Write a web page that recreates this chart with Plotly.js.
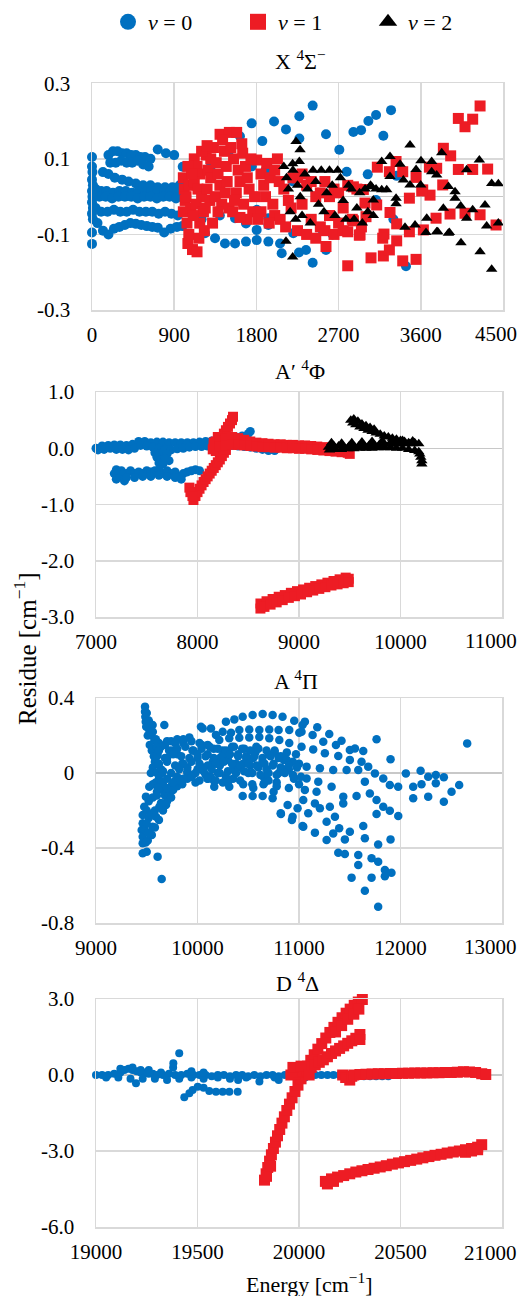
<!DOCTYPE html>
<html>
<head>
<meta charset="utf-8">
<script src="https://cdn.plot.ly/plotly-3.0.1.min.js"></script>
<style>html,body{margin:0;padding:0;background:#fff}#chart{width:520px;height:1296px}</style>
</head>
<body>
<div id="chart"></div>
<script>
// ---------- Panel 1: X 4Σ- ----------
const X_v0_x = [
 0,0,5,0,10,0,5,0,10,0,10,0,0,
 180,230,280,330,380,430,480,530,580,640,720,810,900,
 200,260,320,380,440,500,560,620,
 120,180,250,330,400,480,560,640,720,800,880,960,
 40,100,160,230,300,370,440,510,580,650,720,790,860,930,1000,
 80,150,220,290,360,430,500,570,640,710,780,850,920,
 40,100,170,240,310,380,450,520,590,660,730,800,870,940,
 60,120,180,240,300,360,420,480,540,600,660,720,790,860,930,990,
 993,1237,1347,1456,1566,1686,1803,1931,2059,2077,2204,2266,2343,2416,2562,2635,3438,2527,
 2416,3274,3110,3026,2270,1993,1748,2124,2562,2946,2862,3190,2270,1865,1620,2708,1504,
 1686,1803,1931,1803,1931,1566,1100,1200,1400,1300,1900,2789,3019,3110,3336,2200,1750,3300
];
const X_v0_y = [
 0.105,0.08,0.065,0.045,0.03,0.015,0,-0.015,-0.03,-0.045,-0.06,-0.095,-0.125,
 0.11,0.12,0.12,0.115,0.115,0.11,0.11,0.105,0.105,0.1,0.125,0.115,0.11,
 0.09,0.09,0.095,0.09,0.09,0.095,0.085,0.08,
 0.065,0.06,0.05,0.045,0.04,0.035,0.03,0.03,0.025,0.025,0.025,0.03,
 0.02,0.015,0.015,0.01,0.015,0.015,0.01,0.015,0.01,0.015,0.015,0.01,0.015,0.01,0.01,
 0,0,-0.005,0,0,0,-0.005,0,0,-0.005,0,0,-0.005,
 -0.03,-0.04,-0.04,-0.035,-0.04,-0.04,-0.035,-0.04,-0.04,-0.04,-0.045,-0.04,-0.045,-0.05,
 -0.07,-0.09,-0.1,-0.085,-0.08,-0.075,-0.07,-0.072,-0.075,-0.078,-0.08,-0.082,-0.095,-0.085,-0.08,-0.078,
 0.079,-0.097,-0.11,-0.124,-0.124,-0.119,-0.115,-0.119,-0.124,-0.15,-0.097,-0.148,-0.141,-0.175,-0.141,-0.1,-0.184,-0.09,
 0.241,0.229,0.216,0.2,0.213,0.199,0.194,0.178,0.165,0.176,0.171,0.161,0.154,0.147,0.16,0.124,0.122,
 -0.071,-0.088,-0.075,-0.035,-0.057,-0.057,-0.05,-0.06,-0.05,0.08,0.07,0.066,0.059,-0.009,0.055,0.04,0.08,-0.06
];
const X_v1_x = [
 1000,1010,1020,1000,1040,1060,1050,1100,1150,1030,1060,1080,
 1120,1150,1180,1120,1160,1200,1140,1220,1180,1250,1270,1300,1260,1290,1240,1300,1200,1230,
 1330,1360,1380,1400,1350,1420,1380,1402,1450,1470,1480,1460,1500,
 1504,1584,1550,1600,1620,1580,1650,1680,1700,1720,1660,1760,1700,1540,1620,
 1803,1850,1880,1913,1950,2000,2050,1900,1980,1850,2000,2100,2150,2060,2200,2120,
 2250,2300,2350,2400,2450,2500,2550,2600,2650,2700,2750,2800,2850,2900,2950,2250,2350,2450,2550,2650,2300,2400,2500,2600,2700,2750,
 4249,4011,4084,4168,3847,3927,4011,4168,4332,3694,3774,3124,3256,3402,3548,3621,3701,3475,3840,3329,
 3767,3920,4084,4249,4424,3263,3336,3197,3628,2935,3117,2989,2800,3055,3190,3402,3548,3256,3336,3183,2927,2562,2800,3475,3610,3000,2862,2971,2862,
 1050,1090,1110,1170,1260,1320,1430,1520,1560,1640,1740,1780,1820,1940,2030,2180
];
const X_v1_y = [
 0.05,0.02,-0.01,-0.04,-0.07,-0.1,-0.124,-0.14,-0.146,0.0,0.03,-0.03,
 0.1,0.08,0.06,0.04,0.02,0.0,-0.02,-0.04,-0.07,0.11,0.07,0.05,0.02,-0.01,-0.03,0.1,0.12,-0.09,
 0.13,0.09,0.06,0.03,0.0,-0.02,-0.04,0.165,0.12,0.08,0.04,0.01,-0.03,
 0.17,0.17,0.1,0.07,0.04,0.01,0.115,0.08,0.05,0.02,-0.02,-0.04,-0.06,-0.04,-0.055,
 0.097,0.06,0.03,0.088,0.05,0.07,0.04,0.0,-0.02,-0.04,-0.05,0.02,-0.01,-0.06,0.05,-0.08,
 0.05,-0.02,0.03,-0.06,0.0,-0.08,0.04,-0.05,0.02,-0.07,-0.03,0.03,-0.06,0.02,-0.08,-0.09,-0.1,-0.11,-0.09,-0.1,0.06,0.04,0.01,0.0,0.01,-0.09,
 0.24,0.207,0.185,0.205,0.128,0.108,0.072,0.072,0.073,0.078,0.075,0.078,0.066,0.066,0.051,0.018,0.004,-0.004,0.031,0.093,
 -0.057,-0.046,-0.044,-0.048,-0.075,-0.042,-0.072,-0.099,-0.088,-0.101,-0.022,-0.017,-0.183,-0.162,-0.157,-0.17,-0.166,-0.141,-0.117,-0.11,-0.102,-0.132,-0.093,-0.093,0.015,-0.053,-0.064,0.019,0.026,
 0.08,0.06,-0.05,-0.11,0.135,-0.07,0.15,0.13,-0.01,0.14,0.1,0.0,-0.06,-0.07,0.1,-0.03
];
const X_v2_x = [
 2234,2278,3482,3829,4241,4376,4449,3172,3263,3373,3602,3719,3548,3719,3774,4102,3263,3409,3482,3599,3902,3975,3975,4037,4168,
 4303,3847,3665,4102,4321,4449,3427,3537,3657,3774,3913,3329,3329,3172,3227,3062,3080,2124,2197,2197,2270,4249,4376,4040,3902,3785,
 2100,2130,2150,2170,2200,2230,2250,2280,2300,2330,2360,2390,2420,2450,2480,2510,2540,2570,2600,2630,2660,2690,2720,2750,2780,2810,2840,2870,2900,2930,2960,2990,3020,3050,3080,3110
];
const X_v2_y = [
 0.146,0.124,0.137,0.116,0.097,0.035,0.034,0.093,0.106,0.086,0.095,0.093,0.072,0.066,0.057,0.071,0.053,0.044,0.031,0.031,0.027,0.013,-0.004,-0.025,-0.035,
 -0.022,-0.031,-0.057,-0.057,-0.078,-0.07,-0.081,-0.075,-0.095,-0.093,-0.095,-0.004,-0.019,0.018,0.018,0.026,-0.009,-0.118,-0.16,0.087,0.093,-0.146,-0.192,-0.122,-0.097,-0.093,
 0.08,0.05,0.02,-0.04,0.07,-0.06,0.03,0.0,-0.05,0.06,0.02,-0.07,0.07,0.04,-0.02,0.07,-0.04,0.01,0.07,0.03,-0.05,0.07,0.05,-0.01,-0.06,0.03,0.02,-0.06,-0.03,0.01,-0.07,0.02,-0.04,0.03,-0.05,0.02
];

// ---------- Panel 2: A' 4Φ ----------
const Ap_v0_x = [
 7000,7060,7120,7180,7240,7300,7360,7420,7480,7540,7600,7660,7720,7780,7840,7900,7960,8020,8080,8140,8200,8260,8320,8380,8440,8500,8520,8460,
 7020,7080,7140,7200,7260,7320,7380,7440,7500,7560,7620,7680,7740,7800,7860,7920,7980,8040,8100,8160,8220,8280,8340,8400,8460,8520,8580,8640,8700,8760,8600,8660,8560,
 7580,7620,7660,7700,7600,7640,7680,7720,7620,7660,
 7180,7200,7240,7280,7300,7340,7380,7420,7460,7500,7540,7580,7620,7660,7700,7740,7780,7820,7860,7900,7940,7980,7300,7380,7460,7540,7620,7700,7780,7840,7250,7200,8020
];
const Ap_v0_y = [
 0.0,0.04,0.05,0.06,0.06,0.05,0.07,0.12,0.12,0.1,0.11,0.11,0.1,0.1,0.1,0.1,0.1,0.11,0.12,0.13,0.14,0.15,0.17,0.2,0.22,0.26,0.3,0.18,
 -0.03,-0.02,0.0,-0.02,-0.02,-0.03,0.0,0.05,0.04,0.02,0.0,-0.02,-0.03,-0.01,0.0,0.02,0.03,0.03,0.04,0.05,0.06,0.06,0.05,0.04,0.03,0.02,0.0,-0.02,-0.04,-0.04,0.05,0.0,0.1,
 -0.08,-0.1,-0.08,-0.1,-0.16,-0.2,-0.18,-0.22,-0.26,-0.28,
 -0.45,-0.55,-0.5,-0.58,-0.45,-0.4,-0.45,-0.42,-0.45,-0.4,-0.42,-0.4,-0.38,-0.45,-0.4,-0.45,-0.42,-0.5,-0.45,-0.42,-0.4,-0.38,-0.52,-0.52,-0.5,-0.5,-0.48,-0.5,-0.52,-0.55,-0.4,-0.38,-0.4
];
const Ap_v1_x = [
 7960,7980,8000,8020,8040,8060,8080,8100,8120,8140,8160,8180,8200,8220,8240,8260,8280,7920,7930,7950,
 8150,8180,8200,8220,8240,8260,8280,8300,8320,8340,8350,8160,8180,8200,
 8160,8220,8280,8340,8400,8460,8520,8580,8640,8700,8760,8820,8880,8940,9000,9060,9120,9180,9240,9300,9360,9420,9480,
 8160,8220,8280,8340,8400,8460,8520,8580,8640,8700,8760,8820,8880,8940,9000,9060,9120,9180,9240,9300,9360,9420,9480,9500,
 8620,8680,8740,8800,8860,8920,8980,9040,9100,9160,9220,9280,9340,9400,9460,9490,
 8620,8660,8720,8780,8840,8900,8960,9020,9080,9140,9200,9260,9320,9380,9440,9490
];
const Ap_v1_y = [
 -0.92,-0.85,-0.78,-0.72,-0.66,-0.6,-0.55,-0.5,-0.45,-0.4,-0.35,-0.3,-0.25,-0.2,-0.14,-0.08,-0.03,-0.7,-0.78,-0.85,
 -0.02,-0.05,0.05,0.12,0.2,0.26,0.32,0.38,0.44,0.5,0.56,0.05,0.12,0.2,
 0.1,0.14,0.18,0.2,0.18,0.15,0.12,0.1,0.09,0.08,0.07,0.07,0.06,0.06,0.05,0.05,0.04,0.03,0.02,0.0,-0.02,-0.04,-0.06,
 0.0,0.03,0.05,0.06,0.06,0.05,0.04,0.03,0.02,0.02,0.01,0.01,0.0,0.0,-0.01,-0.01,-0.02,-0.03,-0.04,-0.05,-0.06,-0.07,-0.08,-0.1,
 -2.76,-2.72,-2.68,-2.64,-2.61,-2.57,-2.54,-2.51,-2.48,-2.45,-2.42,-2.39,-2.36,-2.33,-2.3,-2.32,
 -2.85,-2.82,-2.78,-2.74,-2.7,-2.66,-2.63,-2.6,-2.56,-2.53,-2.5,-2.47,-2.44,-2.42,-2.4,-2.38
];
const Ap_v2_x = [
 9290,9340,9390,9440,9490,9540,9590,9640,9690,9740,9790,9840,9890,9940,9990,10040,10090,10140,10180,
 9300,9360,9420,9480,9540,9600,9660,9720,9780,9840,9900,9960,10020,10080,10140,10180,
 9510,9530,9560,9600,9640,9680,9720,9760,9800,9840,9880,9920,9960,10000,10040,10080,10120,9540,9580,9620,9660,9700,9740,
 10190,10200,10210,10210,
 9320,9420,9520,9620,9720,9820,9920,10020,10120
];
const Ap_v2_y = [
 0.02,0.05,0.04,0.02,0.03,0.03,0.04,0.05,0.05,0.06,0.06,0.07,0.07,0.08,0.08,0.08,0.08,0.1,0.08,
 -0.03,-0.02,-0.02,-0.01,-0.01,0.0,0.0,0.0,0.01,0.01,0.01,0.0,0.0,-0.02,-0.04,-0.06,
 0.5,0.45,0.42,0.38,0.35,0.32,0.3,0.27,0.25,0.22,0.2,0.18,0.16,0.14,0.12,0.1,0.08,0.52,0.48,0.43,0.4,0.37,0.34,
 -0.1,-0.16,-0.22,-0.28,
 0.1,0.09,0.1,0.11,0.12,0.13,0.13,0.14,0.13
];

// ---------- Panel 3: A 4Π ----------
const A_v0_x = [
 9483,9483,9486,9490,9495,9525,9540,9575,9558,9673,9510,9530,9550,
 9607,9580,9560,9540,9600,9620,9590,9640,9660,9570,
 9525,9492,9475,9460,9460,9450,9460,9460,9460,9607,9647,9657,9624,9591,9558,9540,9510,9690,9680,9560,9600,9520,9480,9500,
 10034,10051,10133,10280,10363,10445,10543,10642,10740,10838,10953,11035,11058,11180,11298,11419,11501,
 10182,10248,10330,10412,10510,10609,10707,10799,10904,11003,11025,11134,11239,11364,11551,11633,
 10215,10313,10412,10510,10609,10707,10806,10904,11025,11140,11255,11387,11501,11616,11682,11764,11902,
 11075,11206,11337,11469,11584,11748,11830,11895,11977,12053,12125,12198,12273,12348,12427,12348,12207,12273,12125,12427,12503,12578,12657,
 11075,11190,11058,11173,11042,11157,11091,11206,11321,11304,11354,11272,11436,11436,11567,11698,11764,11830,11895,11978,11764,11649,
 11042,11157,11272,11337,11396,11452,11501,11633,11649,11780,11902,11387,11452,11584,11715,11780,11584,11846,11911,11846,11715,11518,11649,11780,
 10165,10313,10445,10543,10642,10740,10822,10888,10937,10986,11035,10820,10930,10160,10250,10350,10450,10550,10650,10750,
 9600,9650,9700,9750,9800,9850,9900,9950,10000,10050,10100,10150,10200,10250,10300,10350,10400,10450,10500,10550,10600,10650,10700,10750,10800,10850,10900,10950,11000,
 9620,9680,9740,9800,9860,9920,9980,10040,10100,10160,10220,10280,10340,10400,10460,10520,10580,10640,10700,10760,10820,10880,10940,11000,
 9650,9700,9750,9800,9850,9900,9950,10000,10080,10130,10220,10300,10380,10480,10570,10680,10780,10870,10970,
 9720,9760,9800,9850,9900,9700,9740,9660,9620,9580,9550,
 9700,9780,9860,9940,10020,10100,
 9560,9640,9720,9800,9880,9960,10040,10120,10200,10280,10360,10440,10520,10600,10680,10760,
 9600,9680,9760,9840,9920,10000,10080,10160,10240,10320,10400,10480,10560,10640,10720,10800,10880,
 9620,9700,9780,9860,9940,10020,10100,10180,10260,10340,10420,10500,10580,10660,10740,10820,10900,10980,
 9660,9740,9820,9900,9980,10060,10140,10220,10300,10380,10460,10540,10620,10700,10780,10860,10940,11020,
 9700,9780,9860,9940,10020,10100,10180,10300,10420,10540,10660,10780,10900,
 9560,9600,9640,9520,9540,9500,9520,9490,9500,9580,9610,9700,9760,9830,
 9500,9520,9540,9560,9590,9600,9620
];
const A_v0_y = [
 0.354,0.327,0.3,0.274,0.247,0.229,0.203,0.176,0.256,0.256,0.2,0.15,0.12,
 0.096,0.06,0.03,0.0,0.0,-0.03,-0.05,0.02,-0.06,0.09,
 -0.073,-0.126,-0.18,-0.224,-0.268,-0.304,-0.34,-0.375,-0.428,-0.446,-0.565,-0.09,-0.18,-0.233,-0.286,-0.33,-0.36,-0.17,-0.12,-0.13,-0.1,-0.24,-0.3,-0.2,
 0.247,0.238,0.238,0.274,0.286,0.3,0.309,0.315,0.309,0.3,0.279,0.256,0.274,0.244,0.208,0.172,0.123,
 0.203,0.22,0.215,0.229,0.232,0.229,0.232,0.229,0.229,0.215,0.22,0.203,0.167,0.149,0.131,0.117,
 0.176,0.185,0.188,0.19,0.192,0.185,0.176,0.16,0.14,0.126,0.105,0.091,0.07,0.06,0.034,0.18,0.073,
 0.034,0.025,0.016,0.016,0.016,-0.002,-0.029,-0.064,-0.073,-0.002,-0.073,0.012,-0.02,-0.011,-0.023,-0.055,-0.06,-0.126,-0.135,-0.153,-0.1,-0.064,0.158,
 -0.029,-0.046,-0.09,-0.1,-0.144,-0.162,-0.215,-0.188,-0.073,-0.18,-0.233,-0.26,-0.126,-0.162,-0.123,-0.109,-0.144,-0.18,-0.201,-0.229,-0.219,-0.046,
 -0.286,-0.318,-0.357,-0.322,-0.295,-0.354,-0.313,-0.283,-0.348,-0.381,-0.354,-0.425,-0.432,-0.437,-0.455,-0.473,-0.491,-0.517,-0.532,-0.55,-0.558,-0.558,-0.628,-0.713,
 -0.073,-0.073,-0.123,-0.123,-0.123,-0.135,-0.219,-0.171,-0.233,-0.188,-0.283,-0.215,-0.25,-0.04,-0.05,-0.03,-0.06,-0.08,-0.06,-0.1,
 0.05,0.0,0.08,0.12,0.1,0.05,0.0,0.12,0.08,0.03,0.1,0.06,0.0,0.12,0.07,0.02,0.1,0.05,0.0,0.08,0.03,-0.02,0.1,0.05,0.0,0.07,0.02,-0.03,0.05,
 0.16,0.15,0.17,0.18,0.16,0.19,-0.05,0.15,-0.03,0.13,0.04,-0.02,0.14,0.03,0.13,0.04,0.14,0.06,-0.04,0.12,0.09,0.11,0.06,-0.06,
 -0.05,-0.1,-0.06,-0.02,-0.04,0.03,-0.01,0.02,-0.01,-0.02,0.08,0.11,0.05,0.09,0.11,0.02,-0.05,0.02,0.1,
 -0.12,-0.09,-0.07,-0.06,-0.03,-0.15,-0.13,-0.2,-0.25,-0.29,-0.33,
 0.17,0.16,0.18,0.17,0.16,0.15,
 0.13,0.14,0.12,0.13,0.14,0.12,0.13,0.14,0.13,0.12,0.14,0.13,0.12,0.13,0.12,0.11,
 0.09,0.08,0.1,0.09,0.08,0.1,0.09,0.08,0.09,0.1,0.09,0.08,0.09,0.08,0.09,0.08,0.07,
 0.05,0.06,0.04,0.05,0.06,0.05,0.04,0.05,0.06,0.05,0.04,0.05,0.04,0.05,0.04,0.03,0.04,0.03,
 0.01,0.0,0.02,0.01,0.0,0.01,0.02,0.0,0.01,0.0,0.01,0.0,-0.01,0.0,-0.01,0.0,-0.01,-0.02,
 -0.03,-0.04,-0.03,-0.02,-0.04,-0.03,-0.04,-0.05,-0.04,-0.06,-0.05,-0.07,-0.08,
 -0.06,-0.12,-0.16,-0.15,-0.22,-0.27,-0.32,-0.37,-0.42,-0.2,-0.08,-0.08,-0.05,-0.04,
 0.32,0.28,0.25,0.22,0.18,0.14,0.12
];

// ---------- Panel 4: D 4Δ ----------
const D_v0_x = [
 19000,19030,19060,19090,19120,19140,19160,19180,19200,19220,19240,19260,19280,19300,19330,19360,19390,19420,19450,19480,19510,19540,19570,19600,19630,19660,19690,19720,19750,19780,19810,19840,19870,19900,19930,19960,19990,20020,20050,20080,20110,20140,20170,20200,20230,20260,20290,20320,20350,20380,20410,20440,20470,20510,
 19050,19110,19170,19197,19230,19290,19350,19410,19470,19530,19600,19660,19700,19740,19805,19880,19900,20030,
 19120,19180,19220,19260,19320,19380,19381,19410,19470,19530,
 19435,19460,19476,19501,19530,19558,19591,19624,19657,19698
];
const D_v0_y = [
 0,0,0,0.05,0.1,0.2,0.25,0.2,0.15,0.1,0.1,0.05,0.05,0,0,0.05,0,0,0.05,0,0,0,-0.05,0,0,-0.05,0,0,-0.05,0,-0.05,0,0,-0.05,0,0,0,0,0,0,0,0,0,0,-0.05,-0.05,-0.05,-0.05,-0.05,-0.05,-0.05,-0.05,0,0.1,
 -0.1,-0.1,-0.15,-0.33,-0.15,-0.15,-0.2,-0.15,-0.1,-0.15,-0.1,-0.15,-0.2,-0.1,-0.26,-0.1,-0.2,-0.1,
 0.25,0.3,0.2,0.2,0.1,0.3,0.46,0.855,0.15,0.1,
 -0.88,-0.72,-0.59,-0.46,-0.5,-0.63,-0.66,-0.66,-0.66,-0.66
];
const D_v1_x = [
 19830,19838,19846,19855,19864,19874,19884,19894,19905,19916,19928,19940,19953,19966,19980,19995,20010,20026,20042,20058,20075,20093,20112,20132,20152,20172,20192,20212,20232,20252,20272,20292,20312,
 20180,20210,20240,20270,20295,19840,19860,
 19960,19980,20000,20020,20040,20060,20080,20100,20120,20140,20160,20180,20200,20220,20240,20260,20280,20300,20300,19970,20010,20050,
 20215,20230,20250,20260,20270,20300,20330,20360,20390,20420,20450,20480,20510,20540,20570,20600,20630,20660,20690,20720,20750,20780,20810,20840,20870,20900,20920,
 20130,20160,20190,20220,20250,20280,20310,20340,20370,20400,20430,20460,20490,20520,20550,20580,20610,20640,20670,20700,20730,20760,20790,20820,20850,20880,20900,20140,20170,20820,20850,20880
];
const D_v1_y = [
 -4.15,-3.9,-3.65,-3.4,-3.15,-2.9,-2.65,-2.4,-2.15,-1.9,-1.65,-1.4,-1.15,-0.9,-0.65,-0.4,-0.15,0.1,0.35,0.58,0.8,1.02,1.24,1.46,1.68,1.88,2.08,2.26,2.44,2.6,2.75,2.88,2.98,
 1.7,1.95,2.2,2.4,2.6,-4.0,-3.6,
 0.0,0.05,0.1,0.15,0.2,0.3,0.4,0.5,0.6,0.72,0.85,0.95,1.05,1.15,1.25,1.35,1.45,1.6,1.4,0.3,0.35,0.0,
 0.0,-0.1,-0.2,-0.05,0.0,0.02,0.03,0.04,0.05,0.05,0.06,0.06,0.07,0.07,0.08,0.08,0.08,0.09,0.09,0.1,0.1,0.11,0.13,0.12,0.1,0.05,0.02,
 -4.2,-4.1,-4.03,-3.97,-3.9,-3.83,-3.78,-3.73,-3.68,-3.63,-3.58,-3.52,-3.47,-3.42,-3.37,-3.32,-3.27,-3.22,-3.17,-3.13,-3.08,-3.04,-3.0,-2.95,-2.9,-2.85,-2.75,-4.3,-4.2,-3.05,-3.0,-2.95
];

// ---------- labels ----------
const seriesNames = ['<i>v</i> = 0', '<i>v</i> = 1', '<i>v</i> = 2'];
const panelTitles = ['X <sup>4</sup>Σ<sup>−</sup>', 'A′ <sup>4</sup>Φ', 'A <sup>4</sup>Π', 'D <sup>4</sup>Δ'];
// last label of each energy axis sits against the right edge, drawn right-aligned
const x1Ticks = [0, 900, 1800, 2700, 3600, 4500], x1Text = ['0', '900', '1800', '2700', '3600', ''];
const x2Ticks = [7000, 8000, 9000, 10000, 11000], x2Text = ['7000', '8000', '9000', '10000', ''];
const x3Ticks = [9000, 10000, 11000, 12000, 13000], x3Text = ['9000', '10000', '11000', '12000', ''];
const x4Ticks = [19000, 19500, 20000, 20500, 21000], x4Text = ['19000', '19500', '20000', '20500', ''];
const lastXLabels = ['4500', '11000', '13000', '21000'];
const y1Ticks = [-0.3, -0.1, 0.1, 0.3], y1Text = ['-0.3', '-0.1', '0.1', '0.3'];
const y2Ticks = [-3, -2, -1, 0, 1], y2Text = ['-3.0', '-2.0', '-1.0', '0.0', '1.0'];
const y3Ticks = [-0.8, -0.4, 0, 0.4], y3Text = ['-0.8', '-0.4', '0', '0.4'];
const y4Ticks = [-6, -3, 0, 3], y4Text = ['-6.0', '-3.0', '0.0', '3.0'];
const xTitle = 'Energy [cm<sup>−1</sup>]';
const yTitle = 'Residue [cm<sup>−1</sup>]';

const BLUE = '#0070C0', RED = '#ED1C24', BLACK = '#000000';
const FONT = '"Liberation Serif", serif';

function tr(x, y, xa, ya, color, symbol, size) {
  return {type: 'scatter', mode: 'markers', x: x, y: y, xaxis: xa, yaxis: ya,
    showlegend: false, cliponaxis: false, hoverinfo: 'skip',
    marker: {color: color, symbol: symbol, size: size, line: {width: 0}}};
}
const data = [
  tr(X_v0_x, X_v0_y, 'x', 'y', BLUE, 'circle', 10),
  tr(X_v1_x, X_v1_y, 'x', 'y', RED, 'square', 11),
  tr(X_v2_x, X_v2_y, 'x', 'y', BLACK, 'triangle-up', 10),
  tr(Ap_v0_x, Ap_v0_y, 'x2', 'y2', BLUE, 'circle', 9),
  tr(Ap_v1_x, Ap_v1_y, 'x2', 'y2', RED, 'square', 10),
  tr(Ap_v2_x, Ap_v2_y, 'x2', 'y2', BLACK, 'triangle-up', 10),
  tr(A_v0_x, A_v0_y, 'x3', 'y3', BLUE, 'circle', 8.5),
  tr(D_v0_x, D_v0_y, 'x4', 'y4', BLUE, 'circle', 8),
  tr(D_v1_x, D_v1_y, 'x4', 'y4', RED, 'square', 11)
];
[[BLUE, 'circle'], [RED, 'square'], [BLACK, 'triangle-up']].forEach(function (s, i) {
  data.push({type: 'scatter', mode: 'markers', x: [null], y: [null], name: seriesNames[i],
    showlegend: true, marker: {color: s[0], symbol: s[1], size: 16}});
});

const GRID = '#d9d9d9';
const TF = {family: FONT, size: 21, color: '#000'};
const TT = {family: FONT, size: 22, color: '#000'};
const TY = {family: FONT, size: 25, color: '#000'};
function xax(range, tv, tt, dom, anchor) {
  return {range: range, tickmode: 'array', tickvals: tv, ticktext: tt, domain: dom, anchor: anchor,
    showgrid: true, gridcolor: GRID, gridwidth: 1.5, zeroline: false,
    showline: true, mirror: true, linecolor: GRID, linewidth: 1.5,
    ticks: 'outside', ticklen: 5, tickcolor: 'rgba(0,0,0,0)',
    tickfont: TF, fixedrange: true};
}
function yax(range, tv, tt, dom, anchor) {
  return {range: range, tickmode: 'array', tickvals: tv, ticktext: tt, domain: dom, anchor: anchor,
    showgrid: true, gridcolor: GRID, gridwidth: 1.5, zeroline: true, zerolinecolor: '#c8c8c8', zerolinewidth: 1.5,
    showline: true, mirror: true, linecolor: GRID, linewidth: 1.5,
    ticks: 'outside', ticklen: 16, tickcolor: 'rgba(0,0,0,0)',
    tickfont: TF, fixedrange: true};
}
const H = 1296, W = 520;
function py(p) { return 1 - p / H; }
function px(p) { return p / W; }
function ann(text, x, y, font, extra) {
  return Object.assign({text: text, x: px(x), y: py(y), xref: 'paper', yref: 'paper', showarrow: false,
    xanchor: 'center', yanchor: 'middle', font: font}, extra || {});
}
const lastLabelY = [334, 641, 947, 1253];

const layout = {
  width: W, height: H, margin: {l: 0, r: 0, t: 0, b: 0},
  paper_bgcolor: '#fff', plot_bgcolor: '#fff',
  font: TF,
  showlegend: true,
  legend: {orientation: 'h', x: px(303), xanchor: 'center', y: py(22), yanchor: 'middle',
    entrywidth: 85, entrywidthmode: 'pixels', font: TT, bgcolor: 'rgba(0,0,0,0)'},
  xaxis: xax([0, 4500], x1Ticks, x1Text, [px(92), px(503)], 'y'),
  yaxis: yax([-0.3, 0.3], y1Ticks, y1Text, [py(310), py(83.3)], 'x'),
  xaxis2: xax([7000, 11000], x2Ticks, x2Text, [px(96), px(502)], 'y2'),
  yaxis2: yax([-3, 1], y2Ticks, y2Text, [py(617), py(392)], 'x2'),
  xaxis3: xax([9000, 13000], x3Ticks, x3Text, [px(96), px(502)], 'y3'),
  yaxis3: yax([-0.8, 0.4], y3Ticks, y3Text, [py(923), py(698)], 'x3'),
  xaxis4: xax([19000, 21000], x4Ticks, x4Text, [px(96), px(502)], 'y4'),
  yaxis4: yax([-6, 3], y4Ticks, y4Text, [py(1227), py(999)], 'x4'),
  annotations: [
    ann(panelTitles[0], 300, 60, TT),
    ann(panelTitles[1], 300, 370, TT),
    ann(panelTitles[2], 296, 680, TT),
    ann(panelTitles[3], 297, 982, TT),
    ann(xTitle, 309, 1283, TT),
    ann(yTitle, 25, 649, TY, {textangle: -90})
  ].concat(lastXLabels.map(function (t, i) {
    return ann(t, 518, lastLabelY[i], TF, {xanchor: 'right', borderpad: 0});
  }))
};
Plotly.newPlot('chart', data, layout, {staticPlot: true, displayModeBar: false});
</script>
</body>
</html>
